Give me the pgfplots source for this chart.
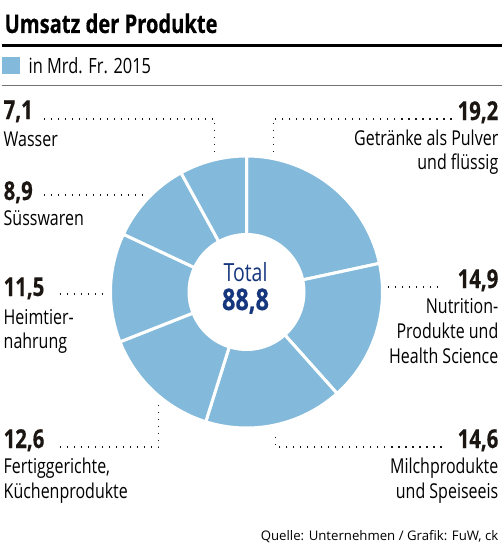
\documentclass[border=0pt]{standalone}
\usepackage{pgfplots}
\pgfplotsset{compat=1.18}
\usepackage{fontspec}
\setmainfont{Open Sans}[FakeStretch=0.78, BoldFeatures={FakeBold=0.4}]
\newfontfamily\quellefont{Open Sans}
\definecolor{pieblue}{RGB}{131,186,219}
\definecolor{numcol}{RGB}{28,22,18}
\definecolor{totcol}{RGB}{22,55,125}
\newcommand\numf{\fontsize{26bp}{30bp}\selectfont\bfseries\color{numcol}}
\newcommand\labf{\fontsize{20.5bp}{24bp}\selectfont\color{black}}
\newcommand\slice[2]{%
\addplot[fill=pieblue, draw=white, line width=3bp, line join=round, variable=\t, samples at={-1,0,...,61}]
({245 + 136*(\t>=0)*(\t<=60)*cos(90-360*(#1+#2*min(max(\t,0),60)/60)/88.8)},
 {292 - 136*(\t>=0)*(\t<=60)*sin(90-360*(#1+#2*min(max(\t,0),60)/60)/88.8)});
}
\begin{document}
\begin{tikzpicture}
\begin{axis}[scale only axis, width=500bp, height=545bp,
  xmin=0, xmax=500, ymin=0, ymax=545, y dir=reverse,
  axis lines=none, clip=false]
\path (axis cs:0,0) rectangle (axis cs:500,545);
% slices (values in Mrd. Fr.), clockwise from top
\slice{0}{19.2}
\slice{19.2}{14.9}
\slice{34.1}{14.6}
\slice{48.7}{12.6}
\slice{61.3}{11.5}
\slice{72.8}{8.9}
\slice{81.7}{7.1}
\addplot[fill=white, draw=none, domain=0:360, samples=120] ({245+59*cos(x)},{292-59*sin(x)});
% title
\node[anchor=base west, inner sep=0] at (axis cs:3,33) {\fontsize{25.8bp}{30bp}\selectfont\bfseries Umsatz der Produkte};
\draw[black, line width=3bp] (axis cs:0,46) -- (axis cs:500,46);
\fill[pieblue] (axis cs:0,57) rectangle (axis cs:18,74);
\node[anchor=base west, inner sep=0] at (axis cs:27,74) {\fontsize{21bp}{25bp}\selectfont in Mrd. Fr. 2015};
\draw[black!55, line width=1.2bp] (axis cs:0,85.5) -- (axis cs:500,85.5);
% total
\node[anchor=base, inner sep=0] at (axis cs:244,281) {\fontsize{25bp}{30bp}\selectfont\color{totcol}Total};
\node[anchor=base, inner sep=0] at (axis cs:244,310) {\fontsize{30bp}{34bp}\selectfont\bfseries\color{totcol}88,8};
% leaders
\tikzset{lead/.style={numcol, line width=1.4bp, dash pattern=on 1.4bp off 5.6bp}}
\draw[lead] (axis cs:42,119) -- (axis cs:213,119) -- (axis cs:213,155);
\draw[lead] (axis cs:450,119) -- (axis cs:272,119) -- (axis cs:272,155);
\draw[lead] (axis cs:42,195) -- (axis cs:142,195);
\draw[lead] (axis cs:58,294) -- (axis cs:106,294);
\draw[lead] (axis cs:386,287) -- (axis cs:440,287);
\draw[lead] (axis cs:58,447) -- (axis cs:157,447) -- (axis cs:157,401);
\draw[lead] (axis cs:440,447) -- (axis cs:274,447) -- (axis cs:274,431);
% left labels
\node[anchor=base west, inner sep=0] at (axis cs:2,119) {\numf 7,1};
\node[anchor=base west, inner sep=0] at (axis cs:2,146) {\labf Wasser};
\node[anchor=base west, inner sep=0] at (axis cs:2,200) {\numf 8,9};
\node[anchor=base west, inner sep=0] at (axis cs:2,225) {\labf Süsswaren};
\node[anchor=base west, inner sep=0] at (axis cs:2,296) {\numf 11,5};
\node[anchor=base west, inner sep=0] at (axis cs:2,324) {\labf Heimtier-};
\node[anchor=base west, inner sep=0] at (axis cs:2,348) {\labf nahrung};
\node[anchor=base west, inner sep=0] at (axis cs:2,448) {\numf 12,6};
\node[anchor=base west, inner sep=0] at (axis cs:2,473) {\labf Fertiggerichte,};
\node[anchor=base west, inner sep=0] at (axis cs:2,498) {\labf Küchenprodukte};
% right labels
\node[anchor=base east, inner sep=0] at (axis cs:497,120) {\numf 19,2};
\node[anchor=base east, inner sep=0] at (axis cs:497,145) {\labf Getränke als Pulver};
\node[anchor=base east, inner sep=0] at (axis cs:497,169) {\labf und flüssig};
\node[anchor=base east, inner sep=0] at (axis cs:497,288) {\numf 14,9};
\node[anchor=base east, inner sep=0] at (axis cs:497,313) {\labf Nutrition-};
\node[anchor=base east, inner sep=0] at (axis cs:497,338) {\labf Produkte und};
\node[anchor=base east, inner sep=0] at (axis cs:497,363) {\labf Health Science};
\node[anchor=base east, inner sep=0] at (axis cs:497,448) {\numf 14,6};
\node[anchor=base east, inner sep=0] at (axis cs:497,473) {\labf Milchprodukte};
\node[anchor=base east, inner sep=0] at (axis cs:497,498) {\labf und Speiseeis};
\node[anchor=base east, inner sep=0] at (axis cs:497,540) {\quellefont\fontsize{13.2bp}{15bp}\selectfont Quelle: Unternehmen / Grafik: FuW, ck};
\end{axis}
\end{tikzpicture}
\end{document}
